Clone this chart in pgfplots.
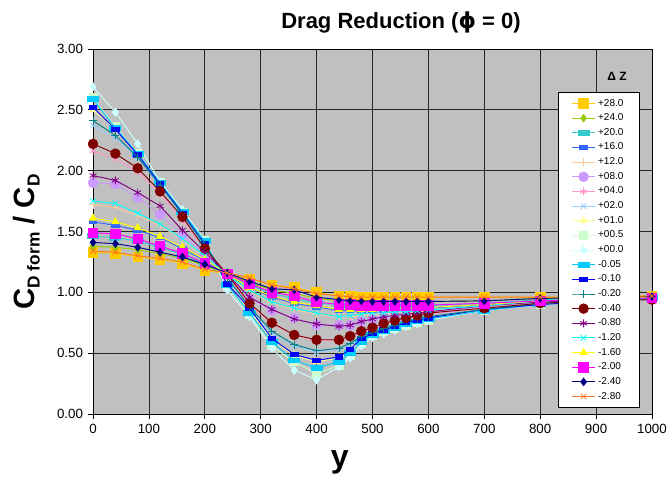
\documentclass[border=0pt]{standalone}
\usepackage{fontspec}
\setmainfont{Liberation Sans}
\newfontfamily\dejavu{DejaVu Sans}
\usepackage{pgfplots}
\usepackage{pgfplotstable}
\pgfplotsset{compat=1.18}

\definecolor{plotgray}{HTML}{C0C0C0}
\definecolor{cGold}{HTML}{FFCC00}
\definecolor{cLime}{HTML}{99CC00}
\definecolor{cAqua}{HTML}{33CCCC}
\definecolor{cLtBlue}{HTML}{3366FF}
\definecolor{cTan}{HTML}{FFCC99}
\definecolor{cLav}{HTML}{CC99FF}
\definecolor{cRose}{HTML}{FF99CC}
\definecolor{cPale}{HTML}{99CCFF}
\definecolor{cLtYel}{HTML}{FFFF99}
\definecolor{cLtGrn}{HTML}{CCFFCC}
\definecolor{cLtTurq}{HTML}{CCFFFF}
\definecolor{cSky}{HTML}{00CCFF}
\definecolor{cBlue}{HTML}{0000FF}
\definecolor{cTeal}{HTML}{008080}
\definecolor{cDkRed}{HTML}{800000}
\definecolor{cPurp}{HTML}{800080}
\definecolor{cCyan}{HTML}{00FFFF}
\definecolor{cYel}{HTML}{FFFF00}
\definecolor{cMag}{HTML}{FF00FF}
\definecolor{cNavy}{HTML}{000080}
\definecolor{cOrng}{HTML}{FF7722}

% C_D form / C_D against y, one column per Delta Z
\pgfplotstableread{
x    p280 p240 p200 p160 p120 p080 p040 p020 p010 p005 p000 m005 m010 m020 m040 m080 m120 m160 m200 m240 m280
0    1.33 1.38 1.46 1.58 1.72 1.90 2.16 2.37 2.50 2.60 2.69 2.59 2.52 2.41 2.22 1.96 1.75 1.61 1.49 1.41 1.34
40   1.32 1.37 1.45 1.55 1.70 1.89 2.10 2.27 2.34 2.36 2.48 2.35 2.34 2.29 2.14 1.92 1.73 1.58 1.48 1.40 1.33
80   1.29 1.35 1.42 1.51 1.63 1.78 1.99 2.11 2.13 2.14 2.22 2.14 2.13 2.11 2.02 1.82 1.65 1.53 1.44 1.37 1.30
120  1.27 1.32 1.37 1.45 1.55 1.64 1.81 1.87 1.89 1.90 1.91 1.90 1.89 1.88 1.83 1.71 1.56 1.46 1.38 1.33 1.28
160  1.24 1.28 1.31 1.36 1.43 1.47 1.59 1.63 1.65 1.66 1.68 1.66 1.65 1.64 1.62 1.51 1.44 1.37 1.32 1.29 1.25
200  1.18 1.22 1.23 1.26 1.29 1.31 1.35 1.38 1.41 1.43 1.43 1.42 1.40 1.39 1.36 1.33 1.30 1.27 1.24 1.23 1.19
240  1.15 1.15 1.15 1.14 1.14 1.14 1.14 1.11 1.08 1.05 1.02 1.06 1.07 1.12 1.15 1.15 1.14 1.15 1.15 1.16 1.16
280  1.11 1.08 1.06 1.04 1.01 0.95 0.90 0.86 0.85 0.82 0.80 0.83 0.87 0.88 0.91 0.96 1.02 1.04 1.07 1.09 1.12
320  1.06 1.02 0.99 0.96 0.91 0.85 0.74 0.66 0.61 0.56 0.54 0.59 0.62 0.68 0.75 0.86 0.92 0.97 1.00 1.03 1.06
360  1.04 0.99 0.95 0.91 0.86 0.79 0.65 0.56 0.48 0.43 0.36 0.44 0.49 0.57 0.65 0.78 0.87 0.92 0.97 1.02 1.03
400  1.00 0.95 0.91 0.88 0.82 0.73 0.60 0.51 0.43 0.33 0.28 0.38 0.44 0.52 0.61 0.74 0.83 0.89 0.92 0.96 0.99
440  0.97 0.93 0.90 0.85 0.80 0.73 0.61 0.53 0.46 0.40 0.39 0.43 0.47 0.54 0.61 0.72 0.80 0.86 0.90 0.94 0.97
460  0.965 0.93 0.89 0.85 0.80 0.73 0.63 0.57 0.52 0.48 0.46 0.50 0.53 0.58 0.64 0.73 0.81 0.86 0.90 0.93 0.965
480  0.96 0.93 0.89 0.85 0.81 0.76 0.67 0.63 0.61 0.58 0.56 0.59 0.62 0.64 0.68 0.76 0.82 0.86 0.89 0.93 0.96
500  0.96 0.925 0.89 0.85 0.82 0.78 0.70 0.67 0.65 0.645 0.63 0.65 0.66 0.67 0.71 0.78 0.83 0.86 0.895 0.925 0.96
520  0.96 0.925 0.89 0.855 0.825 0.79 0.73 0.70 0.68 0.675 0.66 0.68 0.69 0.70 0.745 0.80 0.83 0.865 0.895 0.925 0.96
540  0.96 0.925 0.89 0.86 0.83 0.80 0.76 0.73 0.72 0.70 0.69 0.71 0.72 0.73 0.77 0.81 0.84 0.865 0.895 0.925 0.96
560  0.96 0.925 0.89 0.86 0.835 0.81 0.78 0.76 0.74 0.73 0.72 0.74 0.75 0.76 0.79 0.82 0.84 0.87 0.895 0.925 0.96
580  0.96 0.925 0.89 0.865 0.84 0.82 0.80 0.78 0.77 0.75 0.74 0.76 0.77 0.78 0.81 0.83 0.85 0.87 0.895 0.925 0.96
600  0.96 0.925 0.89 0.87 0.845 0.83 0.82 0.80 0.79 0.77 0.77 0.78 0.79 0.80 0.83 0.84 0.855 0.875 0.895 0.925 0.96
700  0.96 0.93 0.91 0.90 0.89 0.885 0.87 0.86 0.86 0.85 0.85 0.85 0.86 0.86 0.87 0.89 0.89 0.90 0.91 0.93 0.96
800  0.96 0.95 0.94 0.93 0.93 0.92 0.91 0.91 0.90 0.90 0.90 0.90 0.90 0.91 0.91 0.92 0.93 0.93 0.93 0.95 0.96
1000 0.97 0.965 0.96 0.96 0.96 0.955 0.95 0.95 0.95 0.95 0.95 0.95 0.95 0.95 0.94 0.955 0.955 0.96 0.955 0.965 0.97
}\dragtab

\pgfplotsset{
  ser/.style n args={3}{color=#1, line width=0.7pt, mark=#2, mark size=#3,
    mark options={solid, fill=#1, line width=0.6pt}},
  longbar/.style={mark options={xscale=1.4, yscale=0.6}},
  shortbar/.style={mark options={xscale=1.3, yscale=0.75}},
}

\begin{document}
\begin{tikzpicture}
\begin{axis}[
  scale only axis,
  width=419.25pt, height=273.75pt,
  xmin=0, xmax=1000, ymin=0, ymax=3,
  xtick={0,100,...,1000},
  ytick={0,0.5,1,1.5,2,2.5,3},
  grid=major,
  major grid style={black!85, line width=0.5pt},
  axis background/.style={fill=plotgray},
  axis line style={black, line width=0.6pt},
  tick align=outside, tick pos=left,
  major tick length=4pt,
  tick style={black, line width=0.5pt},
  tick label style={font=\fontsize{10}{12}\selectfont},
  yticklabel style={/pgf/number format/.cd, fixed, fixed zerofill, precision=2},
  xticklabel style={/pgf/number format/.cd, set thousands separator={}},
  /pgf/number format/assume math mode=true,
  clip mode=individual,
  legend style={at={(0.832,0.882)}, anchor=north west, draw=black, fill=white,
    line width=0.5pt, font=\fontsize{7.5}{8}\selectfont,
    inner xsep=10pt, inner ysep=3pt, row sep=0.25pt},
  legend cell align=left,
]
\addplot[ser={cGold}{square*}{3.6pt}] table[x=x, y=p280] {\dragtab};
\addlegendentry{+28.0}
\addplot[ser={cLime}{diamond*}{2.8pt}] table[x=x, y=p240] {\dragtab};
\addlegendentry{+24.0}
\addplot[ser={cAqua}{square*}{3pt}, longbar] table[x=x, y=p200] {\dragtab};
\addlegendentry{+20.0}
\addplot[ser={cLtBlue}{square*}{2.2pt}, shortbar] table[x=x, y=p160] {\dragtab};
\addlegendentry{+16.0}
\addplot[ser={cTan}{+}{3pt}] table[x=x, y=p120] {\dragtab};
\addlegendentry{+12.0}
\addplot[ser={cLav}{*}{3.6pt}] table[x=x, y=p080] {\dragtab};
\addlegendentry{+08.0}
\addplot[ser={cRose}{asterisk}{3pt}] table[x=x, y=p040] {\dragtab};
\addlegendentry{+04.0}
\addplot[ser={cPale}{x}{3pt}] table[x=x, y=p020] {\dragtab};
\addlegendentry{+02.0}
\addplot[ser={cLtYel}{triangle*}{3pt}] table[x=x, y=p010] {\dragtab};
\addlegendentry{+01.0}
\addplot[ser={cLtGrn}{square*}{3pt}] table[x=x, y=p005] {\dragtab};
\addlegendentry{+00.5}
\addplot[ser={cLtTurq}{diamond*}{3pt}] table[x=x, y=p000] {\dragtab};
\addlegendentry{+00.0}
\addplot[ser={cSky}{square*}{3pt}, longbar] table[x=x, y=m005] {\dragtab};
\addlegendentry{-0.05}
\addplot[ser={cBlue}{square*}{2.2pt}, shortbar] table[x=x, y=m010] {\dragtab};
\addlegendentry{-0.10}
\addplot[ser={cTeal}{+}{3pt}] table[x=x, y=m020] {\dragtab};
\addlegendentry{-0.20}
\addplot[ser={cDkRed}{*}{3.6pt}] table[x=x, y=m040] {\dragtab};
\addlegendentry{-0.40}
\addplot[ser={cPurp}{asterisk}{3pt}] table[x=x, y=m080] {\dragtab};
\addlegendentry{-0.80}
\addplot[ser={cCyan}{x}{3pt}] table[x=x, y=m120] {\dragtab};
\addlegendentry{-1.20}
\addplot[ser={cYel}{triangle*}{3pt}] table[x=x, y=m160] {\dragtab};
\addlegendentry{-1.60}
\addplot[ser={cMag}{square*}{3.6pt}] table[x=x, y=m200] {\dragtab};
\addlegendentry{-2.00}
\addplot[ser={cNavy}{diamond*}{2.8pt}] table[x=x, y=m240] {\dragtab};
\addlegendentry{-2.40}
\addplot[ser={cOrng}{x}{3pt}] table[x=x, y=m280] {\dragtab};
\addlegendentry{-2.80}
\coordinate (bl) at (rel axis cs:0,0);
\end{axis}
% text placed in px of the reference (0.75pt each) from the axis corner
\node[font=\bfseries\fontsize{9}{10}\selectfont] at ([xshift=393pt,yshift=253.5pt]bl) {Δ Z};
\node[font=\bfseries\fontsize{16.5}{18}\selectfont] at ([xshift=231pt,yshift=294pt]bl) {Drag Reduction ({\dejavu ϕ} = 0)};
\node[font=\bfseries\fontsize{22}{24}\selectfont, rotate=90] at ([xshift=-50pt,yshift=129pt]bl)
  {C\raisebox{-4pt}{\fontsize{13}{14}\selectfont D form} / C\raisebox{-4pt}{\fontsize{13}{14}\selectfont D}};
\node[font=\bfseries\fontsize{24}{26}\selectfont] at ([xshift=185pt,yshift=-36pt]bl) {y};
\pgfresetboundingbox
\path[use as bounding box] ([xshift=-69.75pt,yshift=-50.25pt]bl) rectangle ([xshift=432pt,yshift=310.5pt]bl);
\end{tikzpicture}
\end{document}
